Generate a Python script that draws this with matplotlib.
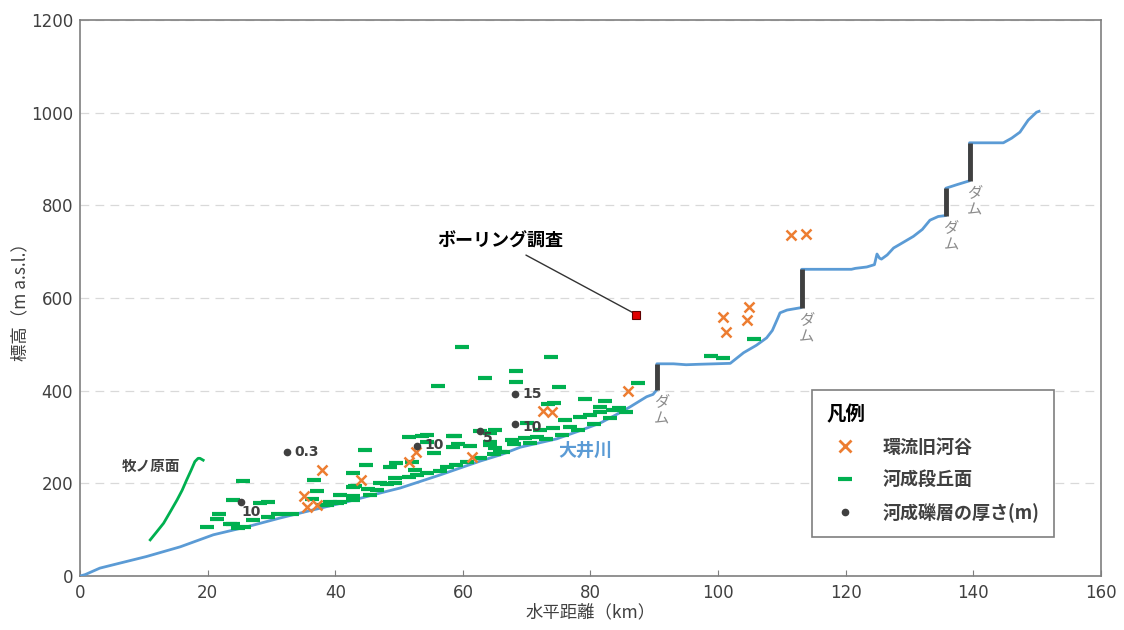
import numpy as np
import matplotlib
matplotlib.use("Agg")
from matplotlib import pyplot as plt
from matplotlib.lines import Line2D

plt.rcParams['font.family'] = ['Noto Sans CJK JP', 'DejaVu Sans']

# River bed profile (km, m a.s.l.)
river_km = [0, 0.8, 3.1, 6.3, 10.4, 15.7, 20.9, 26.1, 31.3, 36.6, 41.8, 47.0, 50.2,
            56.4, 62.7, 66.0, 69.0, 74.7, 78.0, 81.5, 84.0, 86.2, 87.5, 88.8, 89.8, 90.4,
            90.4, 93.0, 95.0, 97.0, 99.5, 101.9, 104.0, 106.0, 107.6, 108.5, 109.3, 109.7,
            110.8, 112.9, 113.1,
            113.1, 116.0, 120.9, 121.5, 123.3, 124.5, 124.9, 125.3, 125.6, 126.5, 127.5,
            128.5, 130.6, 132.0, 133.2, 134.5, 135.7,
            135.7, 137.5, 139.4,
            139.4, 142.0, 144.7, 146.0, 147.3, 148.6, 149.9, 150.3]
river_m = [0, 3, 17, 28, 42, 63, 89, 106, 125, 143, 160, 179, 190,
           218, 248, 262, 278, 296, 312, 330, 348, 365, 376, 387, 392, 402,
           458, 458, 456, 457, 458, 459, 482, 498, 514, 530, 555, 568,
           574, 579, 580,
           662, 662, 662, 664, 667, 672, 695, 686, 684, 693, 708,
           716, 733, 748, 768, 776, 778,
           837, 845, 853,
           935, 935, 935, 945, 958, 984, 1001, 1003]

# dams: position, crest bottom, crest top
dam_km = [90.4, 113.1, 135.7, 139.4]
dam_low = [402, 579, 778, 853]
dam_high = [458, 662, 837, 935]

# Makinohara surface
maki_km = [11.0, 12.0, 13.1, 14.2, 15.2, 16.0, 16.7, 17.4, 18.0, 18.5, 18.8, 19.3]
maki_m = [78, 95, 114, 140, 164, 185, 207, 228, 247, 254, 254, 250]

# abandoned meander valleys
valley_km = [35.1, 37.9, 35.6, 37.2, 44.0, 51.6, 52.6, 61.4, 72.6, 73.9, 85.9,
             100.7, 101.3, 104.9, 104.5, 111.4, 113.7]
valley_m = [173, 228, 148, 153, 207, 245, 267, 256, 357, 353, 400,
            558, 526, 580, 553, 736, 739]

# fluvial terrace surfaces
terrace_km = [19.9, 21.5, 21.8, 23.5, 24.8, 25.5, 24.0, 28.2, 29.5, 27.1, 29.4, 31.1, 33.2,
              24.0, 25.7,
              36.6, 37.1, 36.3, 40.8, 40.8, 38.7, 42.8, 42.8, 39.2, 38.1, 44.6, 44.8, 43.1,
              45.1, 46.5, 45.5, 42.8, 42.8, 47.0, 40.2,
              48.1, 49.4, 49.4, 49.5, 51.5, 53.6, 52.5, 51.5, 52.8, 54.3, 55.5, 56.4, 57.5,
              58.5, 58.5, 59.0, 60.6, 61.1, 62.7, 62.7, 64.3, 64.8, 65.8, 52.0, 48.6, 54.3,
              54.3, 58.8, 59.3, 64.3, 64.3, 59.8, 63.5, 56.1, 68.3, 68.3,
              65.0, 65.0, 66.3, 67.7, 69.7, 70.0, 72.1, 71.6, 74.2, 76.8, 76.0, 78.4, 79.9,
              81.5, 84.4, 73.4, 74.3, 79.2, 82.3, 81.5, 83.6, 75.0, 73.8, 87.4,
              68.0, 70.5, 73.0, 75.5, 78.0, 80.5, 83.0, 85.5,
              98.9, 100.7, 105.6]
terrace_m = [106, 122, 134, 112, 103, 204, 163, 158, 160, 121, 127, 134, 134,
             112, 105,
             208, 184, 166, 175, 160, 153, 164, 193, 159, 153, 272, 240, 195,
             188, 186, 175, 173, 222, 200, 157,
             199, 211, 201, 243, 301, 302, 229, 213, 217, 222, 266, 227, 235,
             302, 279, 240, 247, 281, 312, 254, 283, 263, 268, 247, 236, 305,
             290, 302, 285, 308, 290, 495, 427, 410, 443, 418,
             315, 276, 268, 294, 297, 330, 315, 301, 319, 321, 336, 344, 348,
             355, 362, 371, 373, 382, 377, 364, 359, 408, 472, 416,
             285, 288, 295, 305, 315, 328, 340, 355,
             475, 471, 512]

# gravel layer thickness (m)
gravel_km = [25.3, 32.4, 52.8, 62.7, 68.1, 68.1]
gravel_m = [160, 267, 280, 314, 393, 328]
gravel_text = ['10', '0.3', '10', '5', '15', '10']
gravel_off = [(0.0, -21), (1.2, 0), (1.2, 2), (0.4, -16), (1.2, 0), (1.2, -6)]

boring_km, boring_m = 87.1, 564

blue = '#5b9bd5'
green = '#00b050'
orange = '#ed7d31'
dark = '#404040'

fig = plt.figure(figsize=(11.24, 6.3), dpi=100)
ax = fig.add_axes([0.0712, 0.0857, 0.9083, 0.8825])

ax.plot(river_km, river_m, color=blue, lw=2, zorder=3, solid_joinstyle='round')
ax.vlines(dam_km, dam_low, dam_high, color=dark, lw=3.5, zorder=4)
for x, lo in zip(dam_km, dam_low):
    ax.text(x + 0.8, lo - 8, 'ダ\nム', color='#8c8c8c', fontsize=11,
            ha='center', va='top', linespacing=1.0, zorder=5)

ax.plot(maki_km, maki_m, color=green, lw=2, zorder=3)
ax.text(15.7, 238, '牧ノ原面', fontsize=10.5, fontweight='bold', color=dark,
        ha='right', va='center')

ax.plot(terrace_km, terrace_m, ls='none', marker='_', ms=9.5, mew=3,
        color=green, zorder=4)
ax.plot(valley_km, valley_m, ls='none', marker='x', ms=7, mew=1.8,
        color=orange, zorder=5)
ax.plot(gravel_km, gravel_m, ls='none', marker='o', ms=4.5, color=dark, zorder=6)
for x, y, t, (dx, dy) in zip(gravel_km, gravel_m, gravel_text, gravel_off):
    ax.text(x + dx, y + dy, t, fontsize=10, fontweight='bold', color=dark,
            ha='left', va='center', zorder=6, family='DejaVu Sans')

ax.plot([boring_km], [boring_m], ls='none', marker='s', ms=6, mfc='#e00000',
        mec='#600000', mew=0.8, zorder=7)
ax.annotate('ボーリング調査', xy=(boring_km - 0.4, boring_m + 4),
            xytext=(75.8, 722), fontsize=13, fontweight='bold', color='black',
            ha='right', va='center',
            arrowprops=dict(arrowstyle='-', color='#333333', lw=1,
                            shrinkA=2, shrinkB=0))

ax.text(79.2, 272, '大井川', color=blue, fontsize=13, fontweight='bold',
        ha='center', va='center')

ax.set_xlim(0, 160)
ax.set_ylim(0, 1200)
ax.set_xticks(np.arange(0, 161, 20))
ax.set_yticks(np.arange(0, 1201, 200))
ax.yaxis.grid(True, linestyle=(0, (7, 5)), color='#d9d9d9', lw=0.9)
ax.set_axisbelow(True)
ax.tick_params(axis='x', direction='in', length=4, color='#7f7f7f',
               labelsize=12, labelcolor=dark, pad=6)
ax.tick_params(axis='y', length=0, labelsize=12, labelcolor=dark, pad=5)
for lab in ax.get_xticklabels() + ax.get_yticklabels():
    lab.set_family('DejaVu Sans')
for sp in ax.spines.values():
    sp.set_color('#7f7f7f')
    sp.set_linewidth(1.2)

ax.set_xlabel('水平距離（km）', fontsize=12.5, color=dark, labelpad=1)
ax.set_ylabel('標高（m a.s.l.）', fontsize=12.5, color=dark, labelpad=1)

handles = [
    Line2D([], [], ls='none', marker='x', ms=8, mew=2, color=orange),
    Line2D([], [], ls='none', marker='_', ms=10, mew=3, color=green),
    Line2D([], [], ls='none', marker='o', ms=4.5, color=dark),
]
leg = ax.legend(handles, ['環流旧河谷', '河成段丘面', '河成礫層の厚さ(m)'],
                loc='lower left', bbox_to_anchor=(0.717, 0.07), borderaxespad=0,
                title='凡例', alignment='left', fancybox=False, framealpha=1,
                edgecolor='#7f7f7f', borderpad=0.8, handletextpad=1.1,
                labelspacing=0.75, prop=dict(size=13, weight='bold'),
                title_fontproperties=dict(size=14, weight='bold'))
leg.get_frame().set_linewidth(1.2)
for t in leg.get_texts():
    t.set_color(dark)

fig.savefig('out.png', dpi=100)
